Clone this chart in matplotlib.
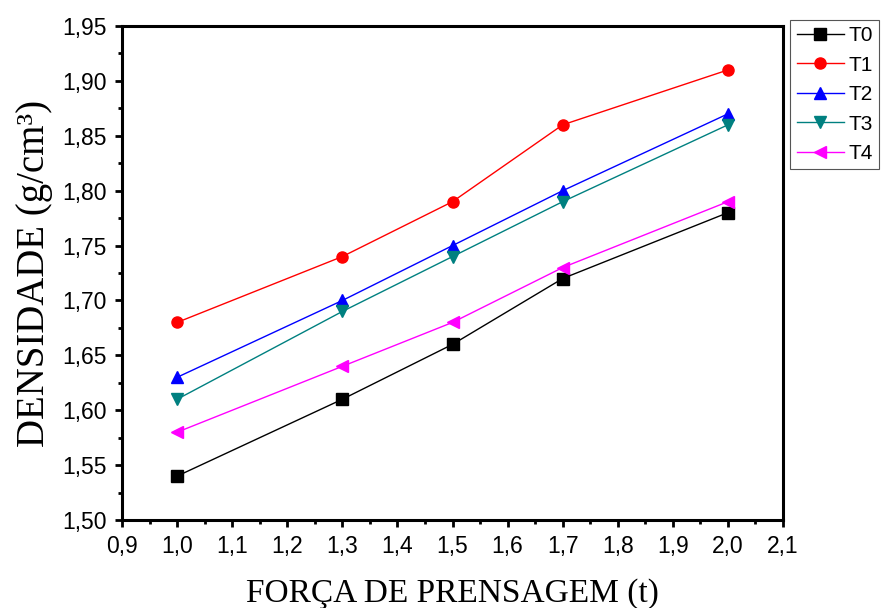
import numpy as np
import matplotlib.pyplot as plt
from matplotlib.ticker import MultipleLocator, FuncFormatter

forca = [1.0, 1.3, 1.5, 1.7, 2.0]
t0 = [1.54, 1.61, 1.66, 1.72, 1.78]
t1 = [1.68, 1.74, 1.79, 1.86, 1.91]
t2 = [1.63, 1.70, 1.75, 1.80, 1.87]
t3 = [1.61, 1.69, 1.74, 1.79, 1.86]
t4 = [1.58, 1.64, 1.68, 1.73, 1.79]

series = [
    ('T0', t0, 'black', 's'),
    ('T1', t1, 'red', 'o'),
    ('T2', t2, 'blue', '^'),
    ('T3', t3, '#008080', 'v'),
    ('T4', t4, 'magenta', '<'),
]

fig = plt.figure(figsize=(8.81, 6.08), dpi=100)
ax = fig.add_axes([0.1385, 0.1447, 0.7503, 0.8125])

for name, vals, col, mk in series:
    ax.plot(forca, vals, color=col, marker=mk, markersize=8, linewidth=1, label=name)

ax.set_xlim(0.9, 2.1)
ax.set_ylim(1.50, 1.95)
ax.xaxis.set_major_locator(MultipleLocator(0.1))
ax.xaxis.set_minor_locator(MultipleLocator(0.05))
ax.yaxis.set_major_locator(MultipleLocator(0.05))
ax.yaxis.set_minor_locator(MultipleLocator(0.025))
ax.xaxis.set_major_formatter(FuncFormatter(lambda v, p: f'{v:.1f}'.replace('.', ',')))
ax.yaxis.set_major_formatter(FuncFormatter(lambda v, p: f'{v:.2f}'.replace('.', ',')))

for s in ax.spines.values():
    s.set_linewidth(2.2)
ax.tick_params(which='major', direction='out', length=5, width=2, labelsize=16.5, pad=6,
               top=False, right=False)
ax.tick_params(which='minor', direction='out', length=3, width=2, top=False, right=False)
for lab in ax.get_xticklabels() + ax.get_yticklabels():
    lab.set_family('Liberation Sans')

ax.set_xlabel('FORÇA DE PRENSAGEM (t)', family='Liberation Serif', fontsize=24, labelpad=14)
ax.set_ylabel('DENSIDADE (g/cm³)', family='Liberation Serif', fontsize=28, labelpad=7)

leg = ax.legend(loc='upper left', bbox_to_anchor=(0.897, 0.967), bbox_transform=fig.transFigure,
                fancybox=False, edgecolor='#555555', framealpha=1, handlelength=2.3,
                prop={'family': 'Liberation Sans', 'size': 15}, borderpad=0.3, labelspacing=0.5,
                handletextpad=0.2, borderaxespad=0)
leg.get_frame().set_linewidth(0.8)

fig.savefig('out.png', dpi=100)
